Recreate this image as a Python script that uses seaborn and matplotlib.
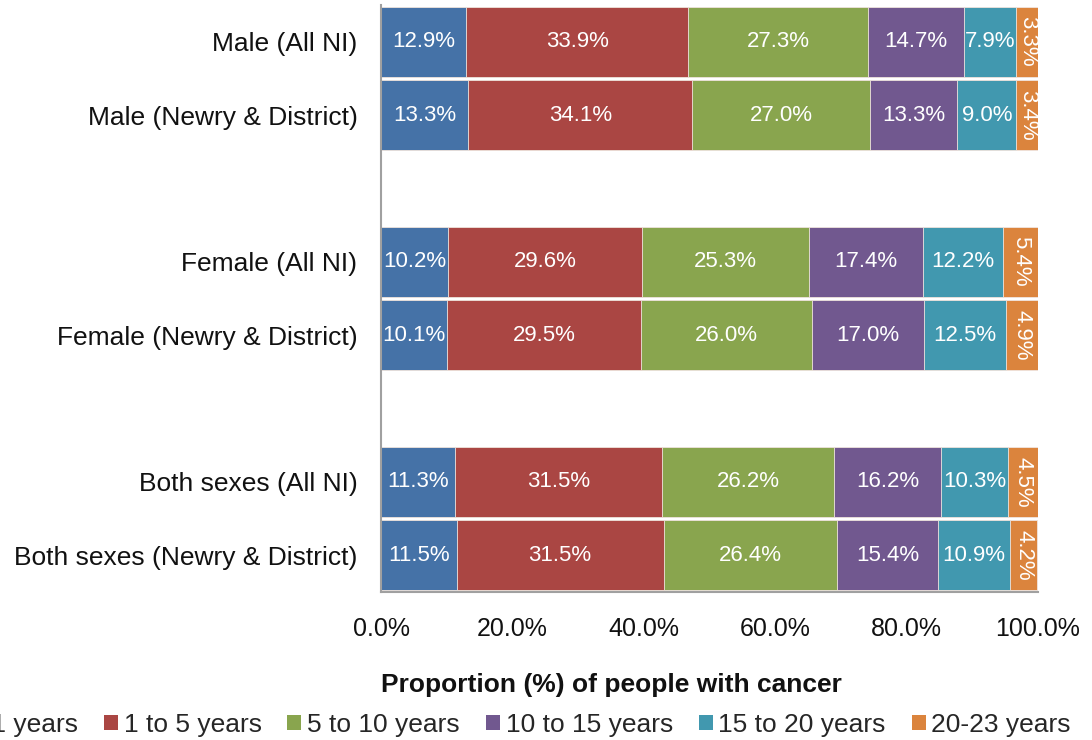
import matplotlib
matplotlib.use("Agg")
import matplotlib.pyplot as plt
from matplotlib.patches import Patch
import seaborn as sns
import numpy as np
import pandas as pd

categories = ["Male (All NI)", "Male (Newry & District)",
              "Female (All NI)", "Female (Newry & District)",
              "Both sexes (All NI)", "Both sexes (Newry & District)"]
series = ["0 to 1 years", "1 to 5 years", "5 to 10 years",
          "10 to 15 years", "15 to 20 years", "20-23 years"]
v_0_1 = [12.9, 13.3, 10.2, 10.1, 11.3, 11.5]
v_1_5 = [33.9, 34.1, 29.6, 29.5, 31.5, 31.5]
v_5_10 = [27.3, 27.0, 25.3, 26.0, 26.2, 26.4]
v_10_15 = [14.7, 13.3, 17.4, 17.0, 16.2, 15.4]
v_15_20 = [7.9, 9.0, 12.2, 12.5, 10.3, 10.9]
v_20_23 = [3.3, 3.4, 5.4, 4.9, 4.5, 4.2]
x_ticks = [0, 20, 40, 60, 80, 100]
x_label = "Proportion (%) of people with cancer"

colors = ["#4572A7", "#AA4643", "#89A54E", "#71588F", "#4198AF", "#DB843D"]

sns.set_theme(style="white")
plt.rcParams["font.family"] = ["Liberation Sans", "DejaVu Sans"]

vals = np.array([v_0_1, v_1_5, v_5_10, v_10_15, v_15_20, v_20_23])
cum = np.cumsum(vals, axis=0)

df = pd.DataFrame({"cat": categories})
for i, s in enumerate(series):
    df[s] = vals[i]
    df["cum_" + str(i)] = cum[i]

order = [categories[0], categories[1], " ", categories[2], categories[3],
         "  ", categories[4], categories[5]]

fig = plt.figure(figsize=(10.92, 7.40), dpi=100)
ax = fig.add_axes([381 / 1092, 1 - 592 / 740, (1038 - 381) / 1092, 587 / 740])

for i in range(len(series) - 1, -1, -1):
    sns.barplot(data=df, y="cat", x="cum_" + str(i), order=order, orient="h",
                color=colors[i], saturation=1, width=0.955, ax=ax,
                edgecolor="#f0e6e0", linewidth=0.6)

# segment labels
pos = {c: order.index(c) for c in categories}
for j, c in enumerate(categories):
    for i in range(len(series)):
        left = cum[i][j] - vals[i][j]
        center = left + vals[i][j] / 2
        rot = 270 if i == len(series) - 1 else 0
        ax.text(center, pos[c], f"{vals[i][j]:.1f}%", ha="center", va="center",
                color="white", fontsize=16, rotation=rot)

ax.set_xlim(0, 100)
ax.set_ylim(len(order) - 0.5, -0.5)
ax.set_xticks(x_ticks)
ax.set_xticklabels([f"{t:.1f}%" for t in x_ticks], fontsize=18, color="#111111")
ax.tick_params(axis="x", direction="out", length=6, width=1, color="#a0a0a0", pad=12)
ax.tick_params(axis="y", length=0, labelsize=19, labelcolor="#111111", pad=17)
ax.set_ylabel("")
ax.set_xlabel("")
for s in ["top", "right"]:
    ax.spines[s].set_visible(False)
for s in ["left", "bottom"]:
    ax.spines[s].set_color("#a0a0a0")
    ax.spines[s].set_linewidth(1.5)
ax.grid(False)

fig.text(611 / 1092, 1 - 685 / 740, x_label, ha="center", va="center",
         fontsize=19, fontweight="bold", color="#111111")

handles = [Patch(facecolor=colors[i], edgecolor="none") for i in range(len(series))]
fig.legend(handles, series, loc="center right", bbox_to_anchor=(1071 / 1092, 1 - 725 / 740),
           ncol=6, frameon=False, fontsize=19, handlelength=0.53, handleheight=0.53,
           handletextpad=0.22, columnspacing=0.98, borderaxespad=0.0, borderpad=0.0)

fig.savefig("out.png", dpi=100)
